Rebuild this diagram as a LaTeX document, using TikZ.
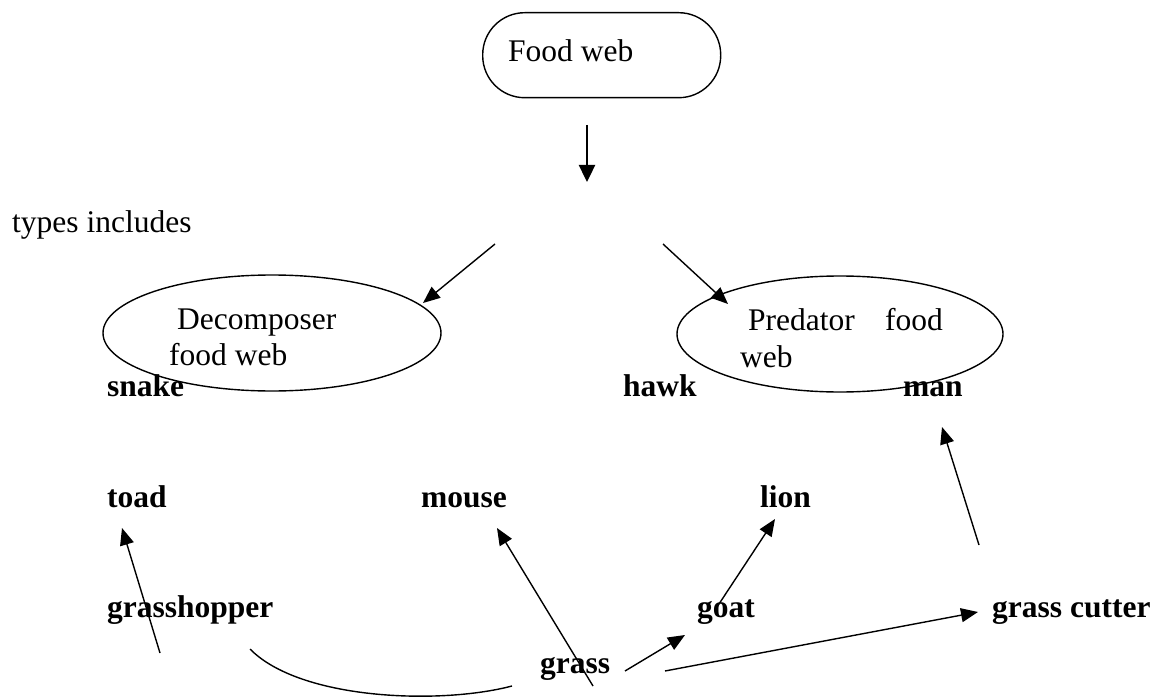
\documentclass[tikz,border=0pt]{standalone}
\usepackage{fontspec}
\setmainfont{Liberation Serif}
\usetikzlibrary{arrows.meta,shapes.geometric}
\begin{document}
\begin{tikzpicture}[x=1pt,y=-1pt,
  lbl/.style={anchor=base west,inner sep=0pt,font=\fontsize{31.5}{36}\selectfont},
  blbl/.style={lbl,font=\fontsize{31.5}{36}\selectfont\bfseries},
  conn/.style={line width=1.4pt,-{Triangle[length=17pt,width=14pt]}},
  plain/.style={line width=1.4pt},
  oval/.style={draw,ellipse,line width=1.4pt,inner sep=0pt},
  pill/.style={draw,line width=1.4pt,rounded corners=42pt,inner sep=0pt}]
\useasboundingbox (0,0) rectangle (1157,698);

% title box
\node[pill,minimum width=238pt,minimum height=85pt,anchor=north west] (fw) at (482,12) {};
\node[lbl] (fwtext) at (508,62) {Food web};
\coordinate (downA) at (587,125);
\coordinate (downB) at (587,182);
\draw[line width=2.4pt,-{Triangle[length=17pt,width=16pt]}] (downA) -- (downB);

\node[lbl] (types) at (12,232) {types includes};

% the two kinds of food web
\node[oval,minimum width=338pt,minimum height=116pt] (decomp) at (272,333) {};
\node[oval,minimum width=326pt,minimum height=116pt] (pred) at (840,334) {};
\node[lbl] (dec1) at (177,329) {Decomposer};
\node[lbl] (dec2) at (169,365) {food web};
\node[lbl] (pre1) at (748,330) {Predator};
\node[lbl] (pre2) at (885,330) {food};
\node[lbl] (pre3) at (740,367) {web};

\coordinate (splitL) at (495,244);
\coordinate (intoL) at (423,303);
\coordinate (splitR) at (663,244);
\coordinate (intoR) at (728,304);
\draw[conn] (splitL) -- (intoL);
\draw[conn] (splitR) -- (intoR);

% organisms
\node[blbl] (snake) at (107,396) {snake};
\node[blbl] (hawk) at (623,396) {hawk};
\node[blbl] (man) at (903,396) {man};
\node[blbl] (toad) at (107,507) {toad};
\node[blbl] (mouse) at (421,507) {mouse};
\node[blbl] (lion) at (760,507) {lion};
\node[blbl] (hopper) at (107,617) {grasshopper};
\node[blbl] (goat) at (697,617) {goat};
\node[blbl] (cutter) at (992,617) {grass cutter};
\node[blbl] (grass) at (540,673) {grass};

% feeding links
\coordinate (hopperUp) at (160,653);
\coordinate (toadIn) at (122,528);
\draw[conn] (hopperUp) -- (toadIn);

\coordinate (grassM) at (593,686);
\coordinate (mouseIn) at (497,528);
\draw[conn] (grassM) -- (mouseIn);

\coordinate (grassG) at (625,671);
\coordinate (goatIn) at (685,635);
\draw[conn] (grassG) -- (goatIn);

\coordinate (goatUp) at (717,607);
\coordinate (lionIn) at (775,519);
\draw[conn] (goatUp) -- (lionIn);

\coordinate (grassC) at (665,671);
\coordinate (cutterIn) at (978,612);
\draw[conn] (grassC) -- (cutterIn);

\coordinate (cutterUp) at (979,545);
\coordinate (manIn) at (942,427);
\draw[conn] (cutterUp) -- (manIn);

\coordinate (hopperLow) at (250,649);
\coordinate (grassLow) at (512,686);
\draw[plain] (hopperLow) .. controls (300,700) and (440,705) .. (grassLow);
\end{tikzpicture}
\end{document}
